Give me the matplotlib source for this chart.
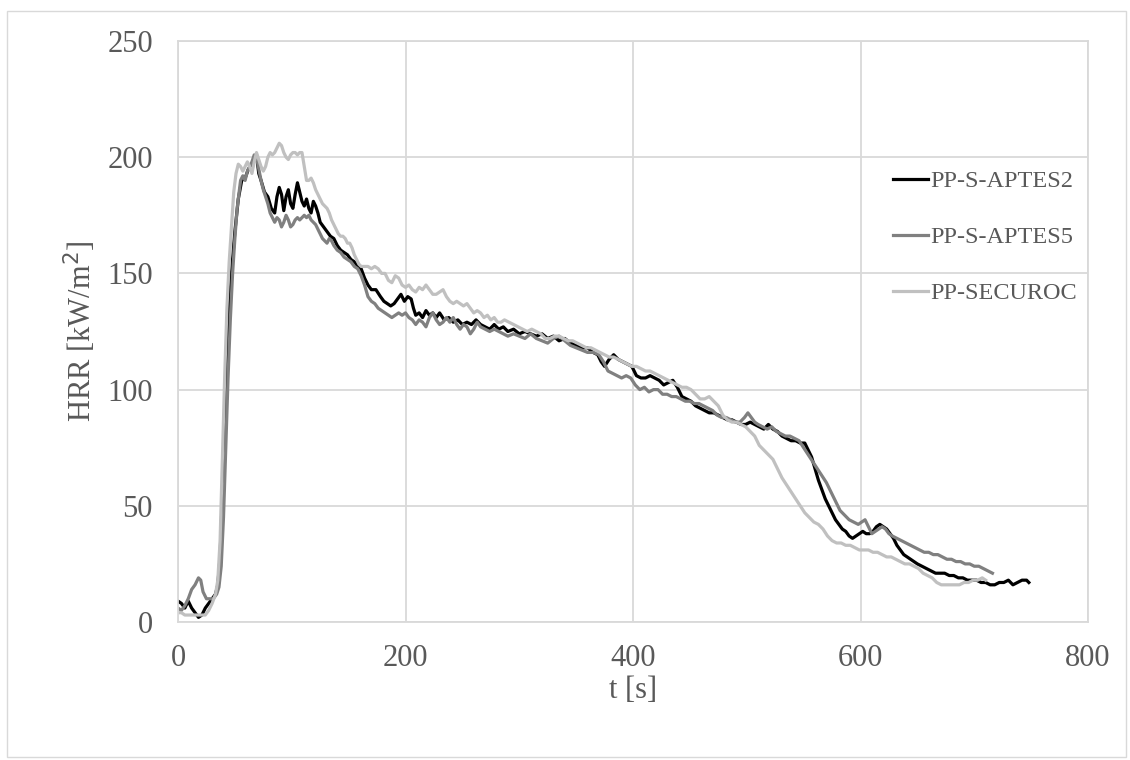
import matplotlib
matplotlib.use("Agg")
import matplotlib.pyplot as plt
from matplotlib.patches import Rectangle

# ---------------------------
# Data
# ---------------------------
labels = ["PP-S-APTES2", "PP-S-APTES5", "PP-SECUROC"]
colors = ["#000000", "#808080", "#c0c0c0"]

t_aptes2 = [0, 3, 6, 9, 12, 15, 18, 21, 24, 27, 30, 33, 35, 37, 39, 41, 43, 45, 47, 50,
            53, 56, 59, 62, 65, 67, 69, 71, 73, 76, 79, 82, 85, 87, 89, 91, 93, 95, 97, 99,
            101, 103, 105, 107, 109, 111, 113, 115, 117, 119, 121, 123, 125, 128, 131, 134, 137, 140, 143, 146,
            149, 152, 155, 158, 161, 164, 167, 170, 174, 178, 181, 184, 187, 190, 193, 196, 199, 202, 205, 207,
            209, 212, 215, 218, 221, 224, 227, 230, 234, 238, 242, 246, 250, 254, 258, 262, 266, 270, 274, 278,
            282, 286, 290, 295, 300, 305, 310, 315, 320, 325, 330, 335, 340, 345, 350, 355, 360, 365, 369, 372,
            375, 379, 383, 387, 391, 395, 399, 403, 407, 411, 415, 419, 423, 427, 431, 435, 439, 443, 447, 451,
            455, 459, 463, 467, 471, 475, 479, 483, 487, 491, 495, 499, 503, 507, 511, 515, 519, 523, 527, 531,
            535, 539, 543, 547, 551, 554, 557, 560, 563, 566, 569, 572, 575, 578, 581, 584, 587, 590, 593, 596,
            599, 602, 605, 608, 611, 614, 617, 620, 623, 626, 629, 632, 635, 638, 641, 644, 647, 650, 654, 658,
            662, 666, 670, 674, 678, 682, 686, 690, 694, 698, 702, 706, 710, 714, 718, 722, 726, 730, 734, 738,
            742, 746, 748]
hrr_aptes2 = [9, 8, 6, 9, 6, 4, 2, 3, 6, 8, 10, 12, 16, 28, 55, 85, 110, 135, 150, 168,
              182, 190, 191, 195, 196, 200, 201, 193, 190, 185, 183, 178, 176, 183, 187, 184, 177, 183, 186, 180,
              178, 184, 189, 185, 181, 179, 182, 178, 176, 181, 179, 176, 172, 170, 168, 166, 165, 162, 160, 159,
              158, 156, 155, 153, 152, 148, 145, 143, 143, 140, 138, 137, 136, 137, 139, 141, 138, 140, 139, 135,
              132, 133, 131, 134, 132, 133, 131, 133, 130, 131, 129, 130, 128, 129, 128, 130, 128, 127, 126, 128,
              126, 127, 125, 126, 124, 125, 124, 123, 124, 122, 123, 121, 122, 120, 119, 118, 118, 116, 115, 112,
              110, 113, 115, 113, 112, 111, 110, 106, 105, 105, 106, 105, 104, 102, 103, 104, 101, 97, 96, 95,
              93, 92, 91, 90, 90, 89, 88, 87, 87, 86, 85, 85, 86, 85, 84, 83, 85, 83, 82, 80,
              79, 78, 78, 77, 77, 74, 71, 66, 61, 57, 53, 50, 47, 44, 42, 40, 39, 37, 36, 37,
              38, 39, 38, 38, 39, 41, 42, 41, 40, 38, 36, 33, 31, 29, 28, 27, 26, 25, 24, 23,
              22, 21, 21, 21, 20, 20, 19, 19, 18, 18, 18, 17, 17, 16, 16, 17, 17, 18, 16, 17,
              18, 18, 17]

t_aptes5 = [0, 3, 6, 9, 12, 15, 18, 20, 22, 25, 28, 31, 34, 36, 38, 40, 42, 44, 46, 48,
            50, 52, 55, 57, 59, 61, 63, 65, 67, 69, 71, 73, 75, 77, 79, 81, 83, 85, 87, 89,
            91, 93, 95, 97, 99, 101, 103, 105, 107, 109, 111, 113, 115, 117, 119, 121, 123, 125, 127, 129,
            131, 133, 135, 137, 140, 143, 146, 149, 152, 155, 158, 161, 164, 167, 170, 173, 176, 179, 182, 185,
            188, 191, 194, 197, 200, 203, 206, 209, 212, 215, 218, 221, 224, 227, 230, 233, 236, 239, 242, 245,
            248, 251, 254, 257, 260, 263, 266, 270, 274, 278, 282, 286, 290, 295, 300, 305, 310, 315, 320, 325,
            330, 335, 340, 345, 350, 355, 360, 365, 370, 374, 378, 382, 386, 390, 394, 398, 402, 406, 410, 414,
            418, 422, 426, 430, 434, 438, 442, 446, 450, 454, 458, 462, 466, 470, 474, 478, 482, 486, 490, 494,
            498, 501, 504, 507, 510, 514, 518, 522, 526, 530, 534, 538, 542, 546, 550, 554, 558, 562, 566, 570,
            574, 578, 582, 586, 590, 594, 598, 601, 604, 607, 610, 613, 616, 619, 622, 625, 628, 632, 636, 640,
            644, 648, 652, 656, 660, 664, 668, 672, 676, 680, 684, 688, 692, 696, 700, 704, 708, 712, 716]
hrr_aptes5 = [6, 5, 7, 10, 14, 16, 19, 18, 13, 10, 10, 10, 12, 15, 24, 45, 75, 105, 130, 150,
              165, 178, 190, 192, 190, 194, 196, 198, 201, 200, 195, 190, 186, 183, 180, 176, 174, 172, 174, 173,
              170, 172, 175, 173, 170, 171, 173, 174, 173, 174, 175, 174, 175, 173, 172, 171, 169, 167, 165, 164,
              163, 165, 164, 162, 160, 159, 157, 156, 155, 153, 152, 149, 145, 140, 138, 137, 135, 134, 133, 132,
              131, 132, 133, 132, 133, 131, 130, 128, 130, 129, 127, 131, 133, 130, 128, 129, 131, 129, 131, 128,
              126, 128, 127, 124, 126, 129, 127, 126, 125, 126, 125, 124, 123, 124, 123, 122, 124, 122, 121, 120,
              122, 123, 121, 119, 118, 117, 116, 116, 115, 112, 108, 107, 106, 105, 106, 105, 102, 100, 101, 99,
              100, 100, 98, 98, 97, 97, 96, 95, 95, 94, 94, 93, 92, 91, 89, 88, 88, 87, 86, 86,
              88, 90, 88, 86, 85, 84, 83, 84, 82, 81, 80, 80, 79, 78, 75, 72, 69, 66, 63, 60,
              56, 52, 48, 46, 44, 43, 42, 43, 44, 41, 38, 39, 40, 41, 40, 38, 37, 36, 35, 34,
              33, 32, 31, 30, 30, 29, 29, 28, 27, 27, 26, 26, 25, 25, 24, 24, 23, 22, 21]

t_securoc = [0, 3, 6, 9, 12, 15, 18, 21, 24, 27, 30, 33, 35, 37, 39, 41, 43, 45, 47, 49,
             51, 53, 55, 57, 59, 61, 63, 65, 67, 69, 71, 73, 75, 77, 79, 81, 83, 85, 87, 89,
             91, 93, 95, 97, 99, 101, 103, 105, 107, 109, 111, 113, 115, 117, 119, 121, 123, 125, 127, 129,
             131, 133, 135, 137, 139, 141, 143, 145, 147, 149, 151, 153, 155, 157, 159, 161, 164, 167, 170, 173,
             176, 179, 182, 185, 188, 191, 194, 197, 200, 203, 206, 209, 212, 215, 218, 221, 224, 227, 230, 233,
             236, 239, 242, 245, 248, 251, 254, 257, 260, 263, 266, 269, 272, 275, 278, 281, 284, 287, 291, 295,
             299, 303, 307, 311, 315, 319, 323, 327, 331, 335, 339, 343, 347, 351, 355, 359, 363, 367, 371, 375,
             379, 383, 387, 391, 395, 399, 403, 407, 411, 415, 419, 423, 427, 431, 435, 439, 443, 447, 451, 455,
             459, 463, 467, 471, 475, 479, 483, 487, 491, 495, 499, 503, 507, 511, 515, 519, 523, 527, 531, 535,
             539, 543, 547, 551, 555, 559, 563, 567, 571, 575, 579, 583, 587, 591, 595, 599, 603, 607, 611, 615,
             619, 623, 627, 631, 635, 639, 643, 647, 651, 655, 659, 663, 667, 671, 675, 679, 683, 687, 691, 695,
             699, 703, 707, 710]
hrr_securoc = [4, 4, 3, 3, 3, 3, 3, 3, 3, 5, 8, 12, 18, 35, 70, 105, 135, 155, 170, 185,
               193, 197, 196, 194, 196, 198, 196, 193, 198, 202, 199, 196, 194, 196, 200, 202, 201, 202, 204, 206,
               205, 202, 200, 199, 201, 202, 202, 201, 202, 202, 196, 190, 190, 191, 189, 186, 184, 182, 180, 179,
               178, 176, 173, 171, 169, 167, 166, 166, 165, 163, 163, 161, 158, 156, 154, 153, 153, 153, 152, 153,
               152, 150, 150, 147, 146, 149, 148, 145, 144, 145, 143, 142, 144, 143, 145, 143, 141, 141, 142, 143,
               140, 138, 137, 138, 137, 136, 137, 135, 133, 134, 133, 131, 132, 130, 131, 129, 129, 130, 129, 128,
               127, 126, 125, 126, 125, 124, 122, 122, 123, 123, 122, 121, 121, 120, 119, 118, 118, 117, 116, 115,
               114, 114, 113, 112, 111, 110, 110, 109, 108, 108, 107, 106, 105, 104, 103, 102, 101, 101, 100, 98,
               96, 96, 97, 95, 93, 89, 87, 86, 86, 85, 84, 82, 80, 76, 74, 72, 70, 66, 62, 59,
               56, 53, 50, 47, 45, 43, 42, 40, 37, 35, 34, 34, 33, 33, 32, 31, 31, 31, 30, 30,
               29, 28, 28, 27, 26, 25, 25, 24, 23, 21, 20, 19, 17, 16, 16, 16, 16, 16, 17, 17,
               18, 18, 19, 18]

series_t = [t_aptes2, t_aptes5, t_securoc]
series_hrr = [hrr_aptes2, hrr_aptes5, hrr_securoc]

x_ticks = [0, 200, 400, 600, 800]
y_ticks = [0, 50, 100, 150, 200, 250]

TEXT_COLOR = "#595959"
GRID_COLOR = "#d9d9d9"

plt.rcParams["font.family"] = ["Liberation Serif", "DejaVu Serif"]

fig = plt.figure(figsize=(11.3, 7.6), dpi=100)
ax = fig.add_axes([178 / 1130, 1 - 622 / 760, (1088 - 178) / 1130, (622 - 41) / 760])

# outer chart border
fig.patches.append(Rectangle((7 / 1130, 3 / 760), 1119 / 1130, 746 / 760,
                             transform=fig.transFigure, fill=False,
                             edgecolor=GRID_COLOR, linewidth=1.0))

for t, v, c, lab in zip(series_t, series_hrr, colors, labels):
    ax.plot(t, v, color=c, linewidth=2.3, label=lab, solid_joinstyle="round")

ax.set_xlim(0, 800)
ax.set_ylim(0, 250)
ax.set_xticks(x_ticks)
ax.set_yticks(y_ticks)
ax.grid(True, color=GRID_COLOR, linewidth=1.3)
ax.set_axisbelow(True)
for s in ax.spines.values():
    s.set_color(GRID_COLOR)
    s.set_linewidth(1.3)
ax.tick_params(length=0, labelsize=22, labelcolor=TEXT_COLOR)
ax.tick_params(axis="x", pad=16)
ax.tick_params(axis="y", pad=18)

ax.set_xlabel("t [s]", fontsize=22, color=TEXT_COLOR, va="center")
ax.xaxis.set_label_coords(0.5, -(691 - 622) / 581)
ax.set_ylabel("HRR [kW/m$^2$]", fontsize=22, color=TEXT_COLOR, va="center")
ax.yaxis.set_label_coords(-(178 - 80) / 910, 0.5)

leg = ax.legend(loc="upper left", bbox_to_anchor=((893 - 178) / 910, (622 - 170) / 581),
                frameon=False, borderaxespad=0, borderpad=0,
                fontsize=17.5, handlelength=1.45, handletextpad=0.1, labelspacing=1.4)
for txt in leg.get_texts():
    txt.set_color(TEXT_COLOR)

fig.savefig("out.png", dpi=100)
